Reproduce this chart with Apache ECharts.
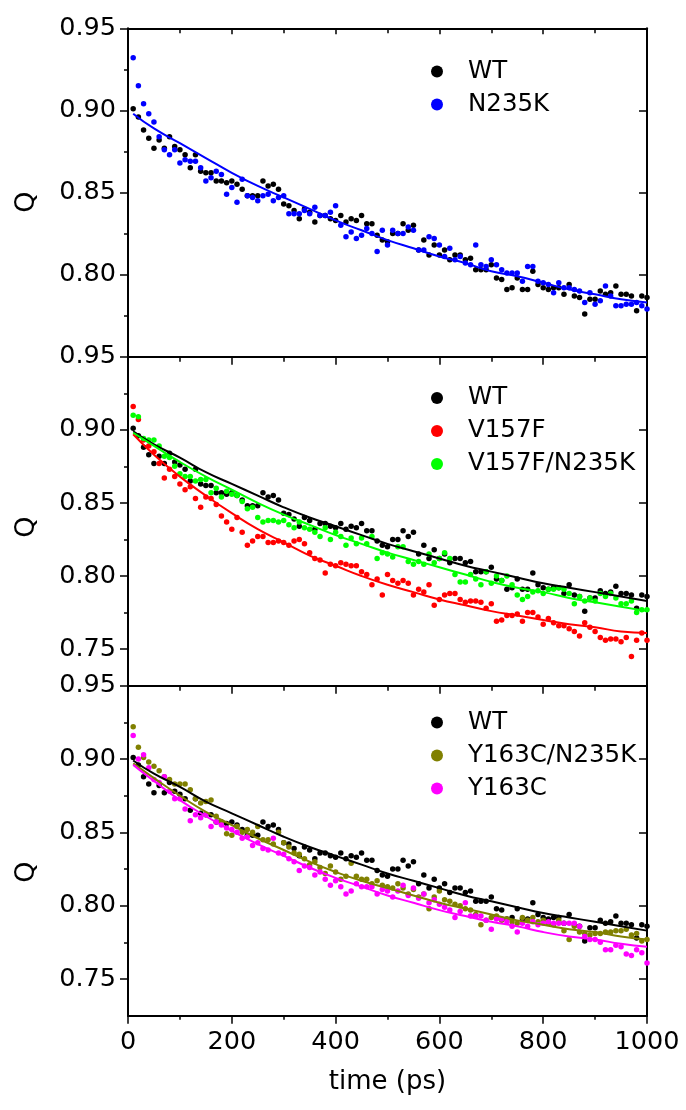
<!DOCTYPE html>
<html>
<head>
<meta charset="utf-8">
<script src="https://cdn.jsdelivr.net/npm/echarts@6/dist/echarts.min.js"></script>
<style>
  html, body { margin: 0; padding: 0; background: #ffffff; }
  #chart { width: 686px; height: 1110px; }
</style>
</head>
<body>
<div id="chart"></div>
<script>
// Sampling times (ps) of the native-contact fraction Q
const time = [
  10, 20, 30, 40, 50, 60, 70, 80, 90, 100,
  110, 120, 130, 140, 150, 160, 170, 180, 190, 200,
  210, 220, 230, 240, 250, 260, 270, 280, 290, 300,
  310, 320, 330, 340, 350, 360, 370, 380, 390, 400,
  410, 420, 430, 440, 450, 460, 470, 480, 490, 500,
  510, 520, 530, 540, 550, 560, 570, 580, 590, 600,
  610, 620, 630, 640, 650, 660, 670, 680, 690, 700,
  710, 720, 730, 740, 750, 760, 770, 780, 790, 800,
  810, 820, 830, 840, 850, 860, 870, 880, 890, 900,
  910, 920, 930, 940, 950, 960, 970, 980, 990, 1000
];

const qWT = [
  0.901, 0.896, 0.888, 0.883, 0.877, 0.882, 0.877, 0.884, 0.878, 0.876,
  0.873, 0.865, 0.873, 0.863, 0.862, 0.862, 0.857, 0.857, 0.856, 0.857,
  0.855, 0.852, 0.848, 0.848, 0.848, 0.857, 0.854, 0.855, 0.852, 0.843,
  0.842, 0.839, 0.834, 0.840, 0.838, 0.832, 0.836, 0.836, 0.834, 0.833,
  0.836, 0.832, 0.834, 0.833, 0.836, 0.831, 0.831, 0.824, 0.821, 0.820,
  0.825, 0.825, 0.831, 0.827, 0.830, 0.815, 0.821, 0.812, 0.818, 0.812,
  0.815, 0.809, 0.812, 0.812, 0.809, 0.810, 0.803, 0.803, 0.803, 0.806,
  0.798, 0.797, 0.791, 0.792, 0.798, 0.791, 0.791, 0.802, 0.794, 0.792,
  0.791, 0.792, 0.792, 0.788, 0.794, 0.787, 0.786, 0.776, 0.785, 0.785,
  0.790, 0.788, 0.789, 0.793, 0.788, 0.788, 0.787, 0.778, 0.787, 0.786
];

const qN235K = [
  0.932, 0.915, 0.904, 0.898, 0.893, 0.884, 0.876, 0.873, 0.876, 0.868,
  0.870, 0.869, 0.869, 0.865, 0.857, 0.859, 0.863, 0.861, 0.849, 0.853,
  0.844, 0.858, 0.848, 0.847, 0.845, 0.848, 0.849, 0.845, 0.847, 0.848,
  0.837, 0.837, 0.837, 0.839, 0.837, 0.841, 0.836, 0.836, 0.838, 0.842,
  0.830, 0.823, 0.826, 0.822, 0.824, 0.828, 0.825, 0.814, 0.827, 0.818,
  0.827, 0.825, 0.825, 0.829, 0.827, 0.815, 0.815, 0.823, 0.822, 0.818,
  0.811, 0.816, 0.809, 0.811, 0.807, 0.806, 0.818, 0.806, 0.805, 0.809,
  0.806, 0.803, 0.801, 0.801, 0.801, 0.796, 0.805, 0.805, 0.796, 0.795,
  0.794, 0.789, 0.795, 0.792, 0.792, 0.791, 0.790, 0.783, 0.789, 0.782,
  0.784, 0.793, 0.787, 0.781, 0.781, 0.782, 0.782, 0.783, 0.781, 0.779
];

const qV157F = [
  0.916, 0.907, 0.893, 0.889, 0.885, 0.877, 0.867, 0.873, 0.868, 0.863,
  0.859, 0.861, 0.853, 0.847, 0.854, 0.853, 0.849, 0.841, 0.837, 0.832,
  0.840, 0.830, 0.821, 0.824, 0.827, 0.827, 0.823, 0.823, 0.824, 0.823,
  0.821, 0.824, 0.825, 0.822, 0.816, 0.812, 0.811, 0.802, 0.808, 0.807,
  0.809, 0.808, 0.807, 0.807, 0.803, 0.801, 0.794, 0.798, 0.787, 0.801,
  0.797, 0.795, 0.797, 0.795, 0.787, 0.791, 0.789, 0.794, 0.780, 0.784,
  0.787, 0.788, 0.788, 0.784, 0.782, 0.783, 0.783, 0.782, 0.778, 0.781,
  0.769, 0.770, 0.773, 0.773, 0.774, 0.769, 0.775, 0.775, 0.772, 0.767,
  0.771, 0.768, 0.766, 0.766, 0.764, 0.762, 0.759, 0.768, 0.765, 0.762,
  0.758, 0.756, 0.757, 0.757, 0.755, 0.758, 0.745, 0.756, 0.761, 0.756
];

const qV157F_N235K = [
  0.910, 0.909, 0.894, 0.893, 0.893, 0.889, 0.882, 0.881, 0.875, 0.870,
  0.868, 0.868, 0.865, 0.866, 0.866, 0.857, 0.860, 0.854, 0.858, 0.856,
  0.855, 0.851, 0.846, 0.847, 0.840, 0.837, 0.838, 0.838, 0.837, 0.838,
  0.835, 0.833, 0.837, 0.833, 0.832, 0.830, 0.827, 0.833, 0.825, 0.830,
  0.827, 0.821, 0.826, 0.822, 0.826, 0.822, 0.827, 0.812, 0.816, 0.815,
  0.813, 0.820, 0.820, 0.810, 0.808, 0.810, 0.808, 0.815, 0.809, 0.812,
  0.816, 0.812, 0.801, 0.796, 0.796, 0.801, 0.798, 0.794, 0.803, 0.795,
  0.800, 0.797, 0.800, 0.794, 0.787, 0.784, 0.786, 0.789, 0.790, 0.788,
  0.791, 0.791, 0.792, 0.791, 0.788, 0.781, 0.786, 0.783, 0.785, 0.783,
  0.788, 0.786, 0.788, 0.785, 0.781, 0.781, 0.783, 0.775, 0.777, 0.777
];

const qY163C_N235K = [
  0.922, 0.908, 0.901, 0.898, 0.895, 0.892, 0.888, 0.886, 0.883, 0.883,
  0.883, 0.879, 0.873, 0.870, 0.871, 0.872, 0.861, 0.857, 0.849, 0.848,
  0.854, 0.850, 0.852, 0.850, 0.854, 0.845, 0.845, 0.842, 0.850, 0.843,
  0.840, 0.836, 0.835, 0.832, 0.828, 0.830, 0.826, 0.822, 0.827, 0.823,
  0.818, 0.820, 0.829, 0.820, 0.818, 0.818, 0.815, 0.817, 0.814, 0.813,
  0.812, 0.815, 0.812, 0.808, 0.811, 0.806, 0.808, 0.798, 0.806, 0.810,
  0.804, 0.803, 0.801, 0.800, 0.798, 0.797, 0.794, 0.787, 0.790, 0.792,
  0.793, 0.790, 0.791, 0.789, 0.788, 0.792, 0.790, 0.792, 0.789, 0.790,
  0.788, 0.787, 0.790, 0.783, 0.777, 0.786, 0.782, 0.781, 0.780, 0.781,
  0.781, 0.782, 0.782, 0.783, 0.783, 0.784, 0.780, 0.781, 0.776, 0.777
];

const qY163C = [
  0.916, 0.900, 0.903, 0.894, 0.886, 0.884, 0.888, 0.878, 0.873, 0.873,
  0.866, 0.858, 0.862, 0.860, 0.862, 0.854, 0.857, 0.855, 0.853, 0.852,
  0.850, 0.846, 0.847, 0.841, 0.843, 0.839, 0.838, 0.846, 0.836, 0.835,
  0.832, 0.830, 0.824, 0.827, 0.826, 0.821, 0.823, 0.818, 0.814, 0.817,
  0.813, 0.808, 0.810, 0.815, 0.813, 0.813, 0.813, 0.808, 0.811, 0.810,
  0.806, 0.810, 0.814, 0.807, 0.812, 0.805, 0.808, 0.802, 0.804, 0.801,
  0.799, 0.797, 0.792, 0.796, 0.802, 0.793, 0.793, 0.793, 0.790, 0.784,
  0.791, 0.791, 0.789, 0.786, 0.782, 0.788, 0.786, 0.789, 0.787, 0.788,
  0.789, 0.788, 0.788, 0.788, 0.788, 0.788, 0.786, 0.779, 0.777, 0.777,
  0.775, 0.770, 0.770, 0.773, 0.772, 0.767, 0.766, 0.770, 0.768, 0.761
];

// Fitted decay curves, sampled every 50 ps
const fitTime = [10, 50, 100, 150, 200, 250, 300, 350, 400, 450, 500,
                 550, 600, 650, 700, 750, 800, 850, 900, 950, 1000];
const fitWT = [0.899, 0.890, 0.881, 0.871, 0.863, 0.855, 0.847, 0.840, 0.834, 0.828, 0.822,
               0.817, 0.812, 0.807, 0.803, 0.799, 0.795, 0.792, 0.789, 0.786, 0.783];
const fitN235K = [0.898, 0.889, 0.880, 0.871, 0.862, 0.854, 0.847, 0.840, 0.833, 0.827, 0.821,
                  0.816, 0.811, 0.807, 0.802, 0.799, 0.795, 0.791, 0.788, 0.785, 0.783];
const fitV157F = [0.897, 0.883, 0.868, 0.855, 0.843, 0.832, 0.823, 0.814, 0.807, 0.800, 0.794,
                  0.789, 0.784, 0.780, 0.776, 0.773, 0.770, 0.767, 0.765, 0.762, 0.761];
const fitV157F_N235K = [0.898, 0.889, 0.878, 0.868, 0.859, 0.850, 0.842, 0.835, 0.828, 0.822, 0.816,
                        0.811, 0.806, 0.801, 0.796, 0.792, 0.789, 0.785, 0.782, 0.779, 0.776];
const fitY163C_N235K = [0.897, 0.887, 0.875, 0.864, 0.855, 0.846, 0.838, 0.830, 0.823, 0.817, 0.812,
                        0.807, 0.802, 0.798, 0.794, 0.790, 0.787, 0.784, 0.782, 0.779, 0.777];
const fitY163C = [0.896, 0.885, 0.872, 0.861, 0.851, 0.842, 0.834, 0.826, 0.819, 0.813, 0.807,
                  0.802, 0.797, 0.793, 0.789, 0.786, 0.782, 0.779, 0.777, 0.774, 0.772];

// Axis ticks
const xMajorInterval = 200;
const yMajorTicks = [0.75, 0.80, 0.85, 0.90, 0.95];
const yMinorTicks = [0.775, 0.825, 0.875, 0.925];
const yRanges = [[0.75, 0.95], [0.725, 0.95], [0.725, 0.95]];
const yLabelTicks = [[0.80, 0.85, 0.90, 0.95], yMajorTicks, yMajorTicks];

// Panels: which series go into each stacked plot (fit: null = no fitted curve drawn)
const panels = [
  [
    { name: 'WT', q: qWT, fit: null, color: '#000000' },
    { name: 'N235K', q: qN235K, fit: fitN235K, color: '#0000ff' }
  ],
  [
    { name: 'WT', q: qWT, fit: fitWT, color: '#000000' },
    { name: 'V157F', q: qV157F, fit: fitV157F, color: '#ff0000' },
    { name: 'V157F/N235K', q: qV157F_N235K, fit: fitV157F_N235K, color: '#00ff00' }
  ],
  [
    { name: 'WT', q: qWT, fit: fitWT, color: '#000000' },
    { name: 'Y163C/N235K', q: qY163C_N235K, fit: fitY163C_N235K, color: '#808000' },
    { name: 'Y163C', q: qY163C, fit: fitY163C, color: '#ff00ff' }
  ]
];

const FONT = 'DejaVu Sans';
const plotLeft = 128, plotRight = 647;
const panelTop = [28.3, 356.7, 685.7];
const panelBottom = [356.7, 685.7, 1015.7];
const legendTop = [54, 380.5, 705];
const qLabelY = [202, 527, 872];

const axisLineStyle = { color: '#000', width: 2 };
const tickLineStyle = { color: '#000', width: 1.5 };

const grids = [], xAxes = [], yAxes = [], series = [], legends = [], graphics = [];

panels.forEach((panel, i) => {
  grids.push({
    left: plotLeft, right: 686 - plotRight,
    top: panelTop[i], height: panelBottom[i] - panelTop[i],
    containLabel: false
  });

  const isLast = i === panels.length - 1;
  // bottom time axis
  xAxes.push({
    type: 'value', gridIndex: i, position: 'bottom', min: 0, max: 1000, interval: xMajorInterval,
    axisLine: { show: true, onZero: false, lineStyle: axisLineStyle },
    axisTick: { show: true, length: 8, lineStyle: tickLineStyle },
    minorTick: { show: true, splitNumber: 2, length: 4, lineStyle: tickLineStyle },
    axisLabel: {
      show: isLast, margin: 14, color: '#000', fontFamily: FONT, fontSize: 25.5,
      formatter: v => String(v)
    },
    splitLine: { show: false },
    name: isLast ? 'time (ps)' : '',
    nameLocation: 'middle', nameGap: 54,
    nameTextStyle: { color: '#000', fontFamily: FONT, fontSize: 26 }
  });
  // top mirror axis
  xAxes.push({
    type: 'value', gridIndex: i, position: 'top', min: 0, max: 1000, interval: xMajorInterval,
    axisLine: { show: true, onZero: false, lineStyle: axisLineStyle },
    axisTick: { show: true, inside: true, length: 6, lineStyle: tickLineStyle },
    minorTick: { show: true, splitNumber: 2, length: 5, lineStyle: tickLineStyle },
    axisLabel: { show: false },
    splitLine: { show: false }
  });

  const [ymin, ymax] = yRanges[i];
  const yBase = { type: 'value', gridIndex: i, min: ymin, max: ymax, splitLine: { show: false } };
  // left: line, major ticks, labels
  yAxes.push(Object.assign({}, yBase, {
    position: 'left',
    axisLine: { show: true, onZero: false, lineStyle: axisLineStyle },
    axisTick: { show: true, length: 8, customValues: yMajorTicks, lineStyle: tickLineStyle },
    axisLabel: {
      show: true, margin: 12, customValues: yLabelTicks[i],
      formatter: v => v.toFixed(2),
      color: '#000', fontFamily: FONT, fontSize: 25.5
    }
  }));
  // left: minor ticks
  yAxes.push(Object.assign({}, yBase, {
    position: 'left',
    axisLine: { show: false },
    axisTick: { show: true, length: 4, customValues: yMinorTicks, lineStyle: tickLineStyle },
    axisLabel: { show: false }
  }));
  // right mirror: line and major ticks
  yAxes.push(Object.assign({}, yBase, {
    position: 'right',
    axisLine: { show: true, onZero: false, lineStyle: axisLineStyle },
    axisTick: { show: true, inside: true, length: 8, customValues: yMajorTicks, lineStyle: tickLineStyle },
    axisLabel: { show: false }
  }));
  // right mirror: minor ticks
  yAxes.push(Object.assign({}, yBase, {
    position: 'right',
    axisLine: { show: false },
    axisTick: { show: true, inside: true, length: 4, customValues: yMinorTicks, lineStyle: tickLineStyle },
    axisLabel: { show: false }
  }));

  const xIdx = i * 2, yIdx = i * 4;
  panel.forEach(s => {
    series.push({
      name: s.name, type: 'scatter', xAxisIndex: xIdx, yAxisIndex: yIdx,
      symbol: 'circle', symbolSize: 5.5,
      itemStyle: { color: s.color, opacity: 1 },
      data: time.map((t, k) => [t, s.q[k]]),
      z: 2, silent: true
    });
  });
  panel.forEach(s => {
    if (!s.fit) return;
    series.push({
      name: s.name + ' fit', type: 'line', xAxisIndex: xIdx, yAxisIndex: yIdx,
      smooth: true, showSymbol: false, symbol: 'none',
      lineStyle: { color: s.color, width: 2 },
      itemStyle: { color: s.color },
      data: fitTime.map((t, k) => [t, s.fit[k]]),
      z: 3, silent: true
    });
  });

  legends.push({
    data: panel.map(s => s.name),
    orient: 'vertical',
    left: 426, top: legendTop[i],
    icon: 'circle', itemWidth: 52, itemHeight: 12, itemGap: 8,
    selectedMode: false,
    itemStyle: { opacity: 1 },
    textStyle: { color: '#000', fontFamily: FONT, fontSize: 24.5, lineHeight: 24 }
  });

  graphics.push({
    type: 'text', x: 27, y: qLabelY[i], rotation: Math.PI / 2,
    style: { text: 'Q', fill: '#000', font: '27px "DejaVu Sans"', align: 'center', verticalAlign: 'middle' }
  });
});

const chart = echarts.init(document.getElementById('chart'), null, { renderer: 'canvas' });
chart.setOption({
  backgroundColor: '#ffffff',
  animation: false,
  grid: grids,
  xAxis: xAxes,
  yAxis: yAxes,
  legend: legends,
  graphic: graphics,
  series: series
});
</script>
</body>
</html>
